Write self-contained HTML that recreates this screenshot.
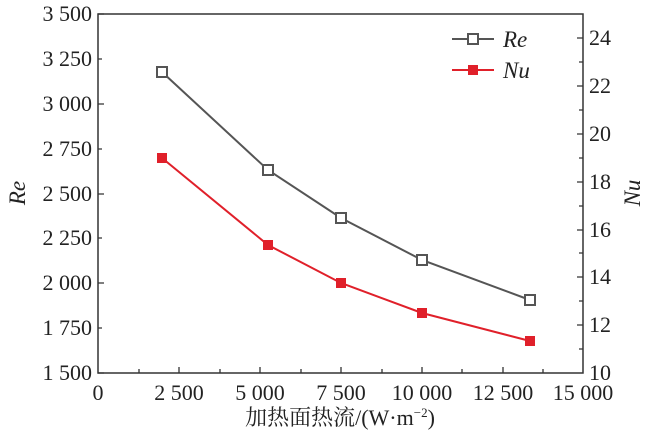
<!DOCTYPE html><html><head><style>body{margin:0;background:#fff}svg text{font-family:"Liberation Serif","Noto Serif CJK SC",serif}</style></head><body>
<svg width="650" height="436" xmlns="http://www.w3.org/2000/svg" font-size="22" fill="#222">
<rect x="98" y="14" width="485" height="359" fill="none" stroke="#333" stroke-width="1.5"/>
<g stroke="#333" stroke-width="1.3">
<path d="M98 373h6M98 328h4M98 283h6M98 238h4M98 194h6M98 149h4M98 104h6M98 59h4M98 14h6"/>
<path d="M139 373v-4M179 373v-6M220 373v-4M260 373v-6M301 373v-4M341 373v-6M382 373v-4M422 373v-6M462 373v-4M503 373v-6M543 373v-4"/>
<path d="M583 349h-4M583 325h-6M583 301h-4M583 277h-6M583 253h-4M583 230h-6M583 206h-4M583 182h-6M583 158h-4M583 134h-6M583 110h-4M583 86h-6M583 62h-4M583 38h-6"/>
</g>
<g text-anchor="end"><text x="92" y="21">3 500</text><text x="92" y="66">3 250</text><text x="92" y="111">3 000</text><text x="92" y="156">2 750</text><text x="92" y="201">2 500</text><text x="92" y="245">2 250</text><text x="92" y="290">2 000</text><text x="92" y="335">1 750</text><text x="92" y="380">1 500</text></g>
<g text-anchor="middle"><text x="98" y="400">0</text><text x="179" y="400">2 500</text><text x="260" y="400">5 000</text><text x="341" y="400">7 500</text><text x="422" y="400">10 000</text><text x="503" y="400">12 500</text><text x="583" y="400">15 000</text></g>
<g><text x="589" y="380">10</text><text x="589" y="332">12</text><text x="589" y="284">14</text><text x="589" y="237">16</text><text x="589" y="189">18</text><text x="589" y="141">20</text><text x="589" y="93">22</text><text x="589" y="45">24</text></g>
<text x="340" y="425" text-anchor="middle">加热面热流/(W·m<tspan font-size="13" dy="-8">−2</tspan><tspan dy="8">)</tspan></text>
<text transform="translate(25,193) rotate(-90)" text-anchor="middle" font-style="italic" font-size="23">Re</text>
<text transform="translate(640,193) rotate(-90)" text-anchor="middle" font-style="italic" font-size="23">Nu</text>
<polyline points="162,72 268,170 341,218 422,260 530,300" fill="none" stroke="#555" stroke-width="2"/>
<g fill="#fff" stroke="#555" stroke-width="2"><rect x="157" y="67" width="10" height="10"/><rect x="263" y="165" width="10" height="10"/><rect x="336" y="213" width="10" height="10"/><rect x="417" y="255" width="10" height="10"/><rect x="525" y="295" width="10" height="10"/></g>
<polyline points="162,158 268,245 341,283 422,313 530,341" fill="none" stroke="#e0202a" stroke-width="2"/>
<g fill="#e0202a"><rect x="157" y="153" width="10" height="10"/><rect x="263" y="240" width="10" height="10"/><rect x="336" y="278" width="10" height="10"/><rect x="417" y="308" width="10" height="10"/><rect x="525" y="336" width="10" height="10"/></g>
<line x1="452" y1="39" x2="494" y2="39" stroke="#555" stroke-width="2"/><rect x="468" y="34" width="10" height="10" fill="#fff" stroke="#555" stroke-width="2"/>
<line x1="452" y1="70" x2="494" y2="70" stroke="#e0202a" stroke-width="2"/><rect x="468" y="65" width="10" height="10" fill="#e0202a"/>
<text x="503" y="47" font-style="italic" font-size="23">Re</text><text x="503" y="78" font-style="italic" font-size="23">Nu</text>
</svg></body></html>
